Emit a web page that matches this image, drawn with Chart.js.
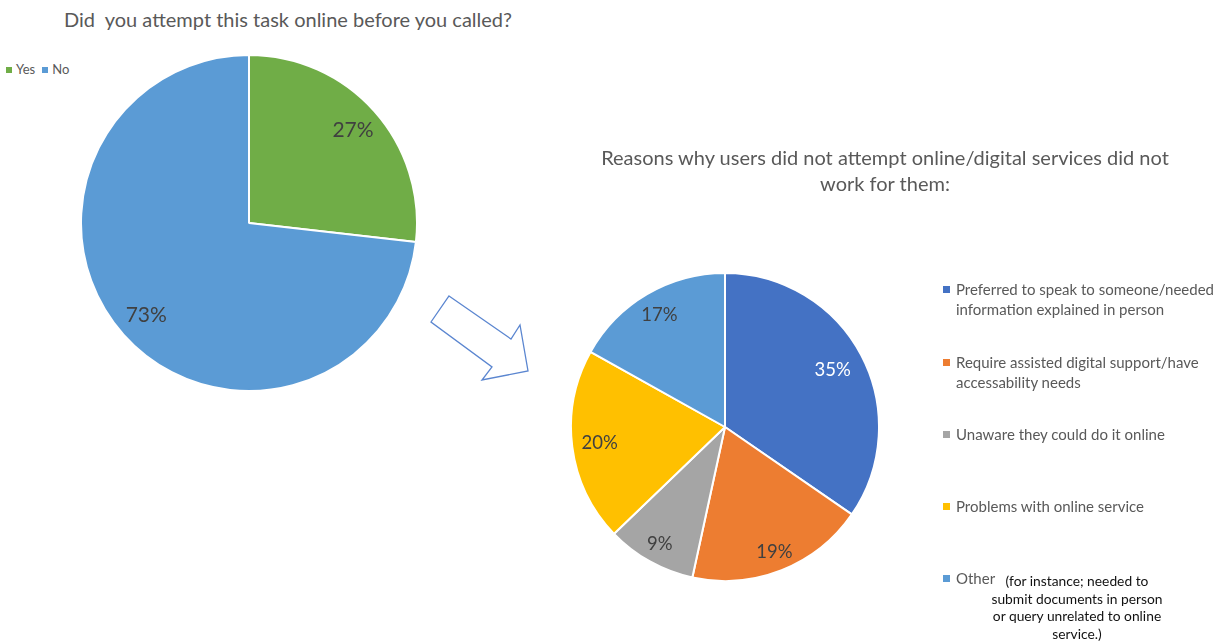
<!DOCTYPE html>
<html><head><meta charset="utf-8">
<script src="https://cdn.jsdelivr.net/npm/chart.js@4/dist/chart.umd.min.js"></script>
<style>
html,body{margin:0;padding:0;background:#fff;width:1216px;height:641px;overflow:hidden;font-family:Lato,"Open Sans",sans-serif;}
.abs{position:absolute;}
#t1{left:0;top:7px;width:576px;text-align:center;font-size:20px;color:#595959;white-space:pre;}
#t2{left:585px;top:144px;width:600px;text-align:center;font-size:20px;color:#595959;line-height:26px;}
#leg1{left:6px;top:61px;font-size:13px;color:#595959;}
#leg1 span.sq{display:inline-block;width:6px;height:6px;margin-right:4px;vertical-align:1px;}
#leg1 span.it{margin-right:7px;}
.l2{position:absolute;left:943px;font-size:15px;color:#595959;line-height:20px;white-space:nowrap;}
.l2 .sq{position:absolute;left:0;top:7px;width:7px;height:7px;}
.l2 .tx{margin-left:13px;display:block;}
#note{left:967px;top:572px;width:220px;text-align:center;font-size:13.8px;color:#111;line-height:17.7px;white-space:nowrap;}
</style></head><body>
<div id="t1" class="abs">Did  you attempt this task online before you called?</div>
<div id="leg1" class="abs"></div>
<div class="abs" style="left:80px;top:54px;width:338px;height:338px;"><canvas id="c1"></canvas></div>
<svg class="abs" style="left:0;top:0" width="1216" height="641">
<polygon points="449,296 511,339 520,325 528,371 482,380 492,367 431,322" fill="none" stroke="#5B86D0" stroke-width="1.3"/>
</svg>
<div id="t2" class="abs">Reasons why users did not attempt online/digital services did not<br>work for them:</div>
<div class="abs" style="left:570px;top:272px;width:310px;height:310px;"><canvas id="c2"></canvas></div>
<div id="leg2"></div>
<div id="note" class="abs">(for instance; needed to<br>submit documents in person<br>or query unrelated to online<br>service.)</div>
<script>
const cats1 = ["Yes", "No"];
const vals1 = [26.8, 73.2];
const cols1 = ["#70AD47", "#5B9BD5"];
const labelCols1 = ["#404040", "#404040"];

const cats2 = ["Preferred to speak to someone/needed information explained in person",
  "Require assisted digital support/have accessability needs",
  "Unaware they could do it online",
  "Problems with online service",
  "Other"];
const legendLines2 = [["Preferred to speak to someone/needed","information explained in person"],
  ["Require assisted digital support/have","accessability needs"],
  ["Unaware they could do it online"],
  ["Problems with online service"],
  ["Other"]];
const vals2 = [34.6, 18.8, 9.4, 20.3, 16.9];
const cols2 = ["#4472C4", "#ED7D31", "#A5A5A5", "#FFC000", "#5B9BD5"];
const labelCols2 = ["#FFFFFF", "#404040", "#404040", "#404040", "#404040"];
const legendTops2 = [279, 352, 424, 496, 568];

// legend 1
const leg1 = document.getElementById('leg1');
cats1.forEach((c,i)=>{
  const s = document.createElement('span'); s.className='it';
  s.innerHTML = '<span class="sq" style="background:'+cols1[i]+'"></span>'+c;
  leg1.appendChild(s);
});
// legend 2
const leg2 = document.getElementById('leg2');
cats2.forEach((c,i)=>{
  const d = document.createElement('div'); d.className='l2'; d.style.top = legendTops2[i]+'px';
  d.innerHTML = '<span class="sq" style="background:'+cols2[i]+'"></span>' + legendLines2[i].map(t=>'<span class="tx">'+t+'</span>').join('');
  leg2.appendChild(d);
});

const labelPlugin = {
  id: 'pctLabels',
  afterDatasetsDraw(chart, args, opts) {
    const ctx = chart.ctx;
    const meta = chart.getDatasetMeta(0);
    const data = chart.data.datasets[0].data;
    ctx.save();
    ctx.font = opts.size + 'px Lato, "Open Sans", sans-serif';
    ctx.textAlign = 'center';
    ctx.textBaseline = 'middle';
    meta.data.forEach((arc, i) => {
      const p = arc.getProps(['x','y','startAngle','endAngle','outerRadius'], true);
      const mid = (p.startAngle + p.endAngle) / 2;
      const r = p.outerRadius * opts.frac[i];
      ctx.fillStyle = opts.colors[i];
      ctx.fillText(Math.round(data[i]) + '%', p.x + Math.cos(mid) * r, p.y + Math.sin(mid) * r);
    });
    ctx.restore();
  }
};

function pie(id, labels, values, colors, size, frac, lcols) {
  return new Chart(document.getElementById(id), {
    type: 'pie',
    data: { labels: labels, datasets: [{ data: values, backgroundColor: colors, borderColor: '#fff', borderWidth: 2, hoverOffset: 0 }] },
    options: {
      responsive: true, maintainAspectRatio: false, animation: false,
      layout: { padding: 0 },
      plugins: { legend: { display: false }, tooltip: { enabled: false }, pctLabels: { size: size, colors: lcols, frac: frac } }
    },
    plugins: [labelPlugin]
  });
}
pie('c1', cats1, vals1, cols1, 21, [0.83, 0.82], labelCols1);
pie('c2', cats2, vals2, cols2, 18.5, [0.79, 0.87, 0.87, 0.82, 0.84], labelCols2);
</script>
</body></html>
